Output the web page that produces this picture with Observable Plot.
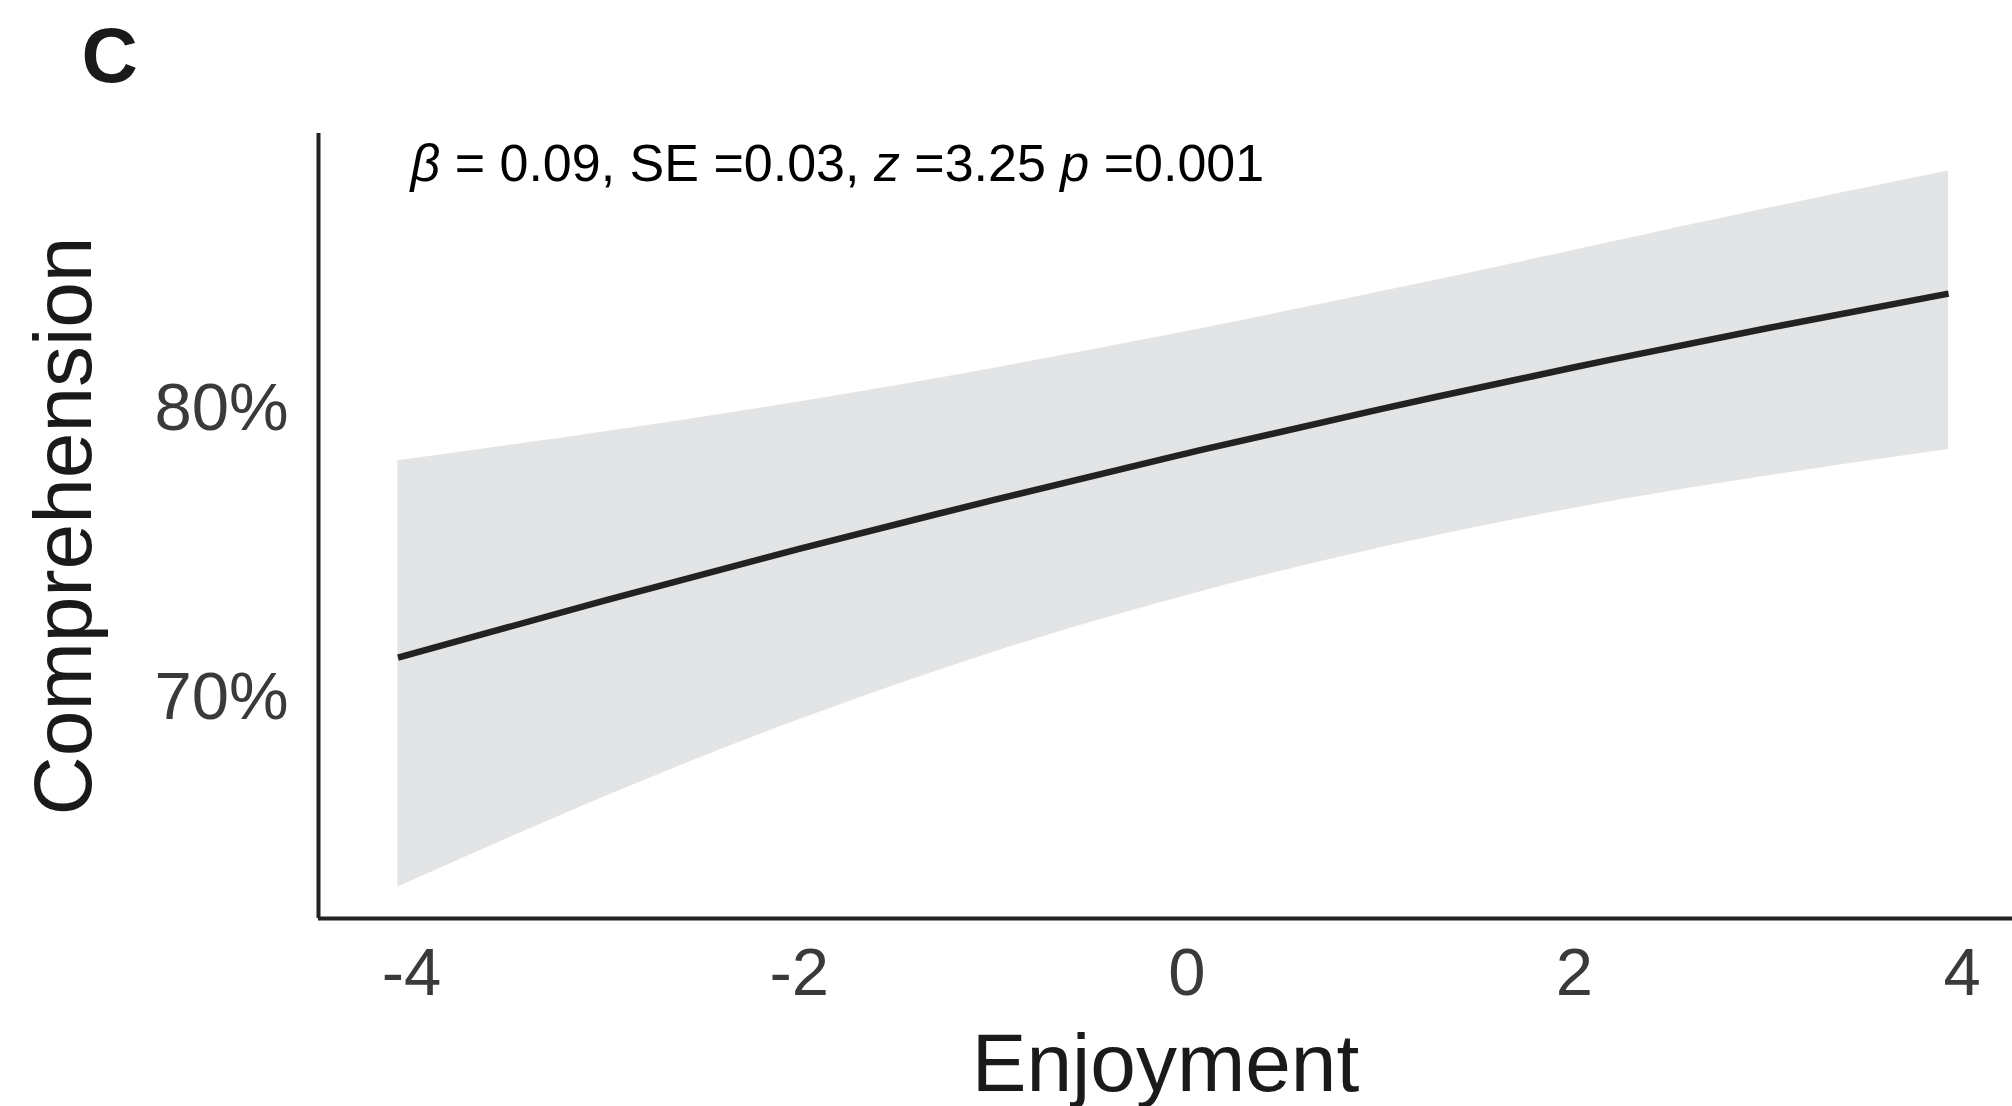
<!DOCTYPE html>
<html>
<head>
<meta charset="utf-8">
<script src="https://cdn.jsdelivr.net/npm/d3@7"></script>
<script src="https://cdn.jsdelivr.net/npm/@observablehq/plot@0.6"></script>
<style>
html, body { margin: 0; padding: 0; background: #fff; }
#chart { width: 2012px; height: 1106px; overflow: hidden; }
</style>
</head>
<body>
<div id="chart"></div>
<script>
// ---- data ----
const enjoyment     = [-4.07, -3, -2, -1, 0, 1, 2, 3, 3.93];
const comprehension = [71.38, 73.36, 75.14, 76.83, 78.45, 79.98, 81.43, 82.79, 83.98];
const ciLower       = [63.44, 66.57, 69.23, 71.56, 73.53, 75.18, 76.55, 77.67, 78.58];
const ciUpper       = [78.19, 79.20, 80.23, 81.39, 82.67, 84.04, 85.48, 86.93, 88.22];

const xTicks = [-4, -2, 0, 2, 4];
const yTicks = [70, 80];
const xDomain = [-4.48, 4.26];
const yDomain = [62.35, 89.52];

const panelTag = "C";
const xLabel = "Enjoyment";
const yLabel = "Comprehension";
const annotation = "β = 0.09, SE =0.03, z =3.25 p =0.001";

const rows = enjoyment.map((x, i) => ({x, y: comprehension[i], lo: ciLower[i], hi: ciUpper[i]}));

const plot = Plot.plot({
  width: 2012,
  height: 1106,
  marginLeft: 318,
  marginRight: 0,
  marginTop: 133,
  marginBottom: 188,
  style: {fontFamily: "'Liberation Sans', Arial, Helvetica, sans-serif", background: "#fff", overflow: "visible"},
  x: {domain: xDomain},
  y: {domain: yDomain},
  marks: [
    Plot.areaY(rows, {x: "x", y1: "lo", y2: "hi", fill: "#e3e4e6", curve: "natural"}),
    Plot.lineY(rows, {x: "x", y: "y", stroke: "#222222", strokeWidth: 6.5, curve: "natural", strokeLinecap: "butt"}),
    Plot.ruleX([xDomain[0]], {stroke: "#222222", strokeWidth: 4}),
    Plot.ruleY([yDomain[0]], {stroke: "#222222", strokeWidth: 4}),
    Plot.axisX({ticks: xTicks, tickFormat: d => String(d), tickSize: 0, tickPadding: 29, fontSize: 67, fill: "#3a3a3a", label: null}),
    Plot.axisY({ticks: yTicks, tickFormat: d => d + "%", tickSize: 0, tickPadding: 30, fontSize: 67, fill: "#3a3a3a", label: null}),
    Plot.text([xLabel], {frameAnchor: "bottom", dy: 172, lineAnchor: "bottom", textAnchor: "middle", fontSize: 82, fill: "#1a1a1a"}),
    Plot.text([yLabel], {frameAnchor: "left", rotate: -90, dx: -228, lineAnchor: "bottom", textAnchor: "middle", fontSize: 82, fill: "#1a1a1a"}),
    Plot.text([panelTag], {frameAnchor: "top-left", dx: -237, dy: -52, lineAnchor: "bottom", textAnchor: "start", fontSize: 78, fontWeight: "bold", fill: "#1a1a1a"}),
    Plot.text([annotation], {frameAnchor: "top-left", dx: 92, dy: 47, lineAnchor: "bottom", textAnchor: "start", fontSize: 52, fill: "#000"})
  ]
});

// italicise the statistic symbols in the annotation
d3.select(plot).selectAll("text")
  .filter(function () { return this.textContent === annotation; })
  .each(function () {
    const t = d3.select(this);
    t.text(null);
    annotation.split(/([βzp])/).filter(s => s.length).forEach(s => {
      t.append("tspan").attr("font-style", /^[βzp]$/.test(s) ? "italic" : null).text(s);
    });
  });

document.getElementById("chart").appendChild(plot);
</script>
</body>
</html>
